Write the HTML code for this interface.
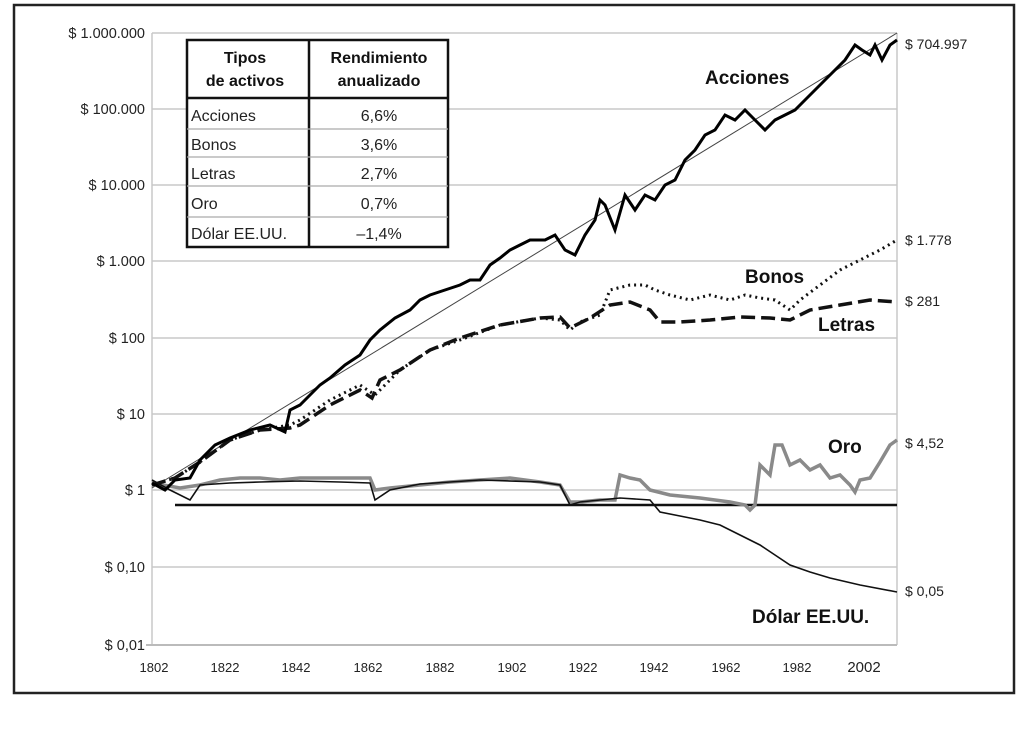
<!DOCTYPE html>
<html><head><meta charset="utf-8"><style>
body{margin:0;background:#fff;}
svg text{font-family:"Liberation Sans",sans-serif;}
</style></head><body>
<svg width="1024" height="726" viewBox="0 0 1024 726" xmlns="http://www.w3.org/2000/svg">
<rect x="14" y="5" width="1000" height="688" fill="#fff" stroke="#222" stroke-width="2.5"/>
<g stroke="#c8c8c8" stroke-width="1.5">
<line x1="152" y1="33" x2="897" y2="33"/><line x1="152" y1="109" x2="897" y2="109"/>
<line x1="152" y1="185" x2="897" y2="185"/><line x1="152" y1="261" x2="897" y2="261"/>
<line x1="152" y1="338" x2="897" y2="338"/><line x1="152" y1="414" x2="897" y2="414"/>
<line x1="152" y1="490" x2="897" y2="490"/><line x1="152" y1="567" x2="897" y2="567"/>
<line x1="897" y1="33" x2="897" y2="645"/><line x1="152" y1="33" x2="152" y2="645"/>
</g>
<line x1="146" y1="645" x2="897" y2="645" stroke="#bbb" stroke-width="2"/>
<g font-size="14.5" fill="#222" text-anchor="end">
<text x="145" y="38">$ 1.000.000</text><text x="145" y="114">$ 100.000</text>
<text x="145" y="190">$ 10.000</text><text x="145" y="266">$ 1.000</text>
<text x="145" y="343">$ 100</text><text x="145" y="419">$ 10</text>
<text x="145" y="495">$ 1</text><text x="145" y="572">$ 0,10</text>
<text x="145" y="650">$ 0,01</text>
</g>
<g font-size="13" fill="#222" text-anchor="middle">
<text x="154" y="672">1802</text><text x="225" y="672">1822</text><text x="296" y="672">1842</text>
<text x="368" y="672">1862</text><text x="440" y="672">1882</text><text x="512" y="672">1902</text>
<text x="583" y="672">1922</text><text x="654" y="672">1942</text><text x="726" y="672">1962</text>
<text x="797" y="672">1982</text><text x="864" y="672" font-size="15">2002</text>
</g>
<line x1="152" y1="488" x2="897" y2="33" stroke="#444" stroke-width="1"/>
<line x1="175" y1="505" x2="897" y2="505" stroke="#111" stroke-width="2.5"/>
<polyline fill="none" stroke="#8a8a8a" stroke-width="3.5" points="152,483 180,488 200,485 220,480 240,478 260,478 280,480 300,478 340,478 370,478 375,490 390,488 420,485 450,482 480,480 510,478 540,482 560,485 570,502 580,502 600,500 615,500 620,475 630,478 640,480 650,490 670,495 700,498 730,502 745,505 750,510 755,505 760,465 770,475 775,445 782,445 790,465 800,460 810,470 820,465 830,478 840,475 850,485 855,492 860,480 870,478 880,462 890,445 897,440"/>
<polyline fill="none" stroke="#111" stroke-width="1.6" points="152,480 170,490 190,500 200,485 230,483 260,482 300,481 340,482 370,483 375,500 390,490 420,484 480,480 540,482 560,485 570,505 580,502 620,498 650,500 660,512 680,516 700,520 720,525 740,535 760,545 775,555 790,565 810,572 830,578 860,585 897,592"/>
<polyline fill="none" stroke="#111" stroke-width="3" stroke-dasharray="2,4" points="152,485 175,478 200,462 230,440 260,430 290,425 300,420 330,400 360,385 375,395 400,370 430,350 460,340 500,325 540,318 560,320 570,330 580,322 600,315 610,290 630,285 645,285 655,290 670,295 690,300 710,295 730,300 745,295 760,298 775,300 790,310 800,300 820,285 840,270 860,260 880,250 897,240"/>
<polyline fill="none" stroke="#111" stroke-width="3.5" stroke-dasharray="14,6" points="152,485 175,478 200,462 230,440 260,430 290,428 300,425 330,405 360,390 372,398 380,380 400,370 430,350 460,338 500,325 540,318 560,317 570,328 590,318 610,305 630,302 650,310 660,322 680,322 710,320 740,317 770,318 790,320 810,310 840,305 870,300 897,302"/>
<polyline fill="none" stroke="#000" stroke-width="3" points="152,483 165,490 175,480 190,478 200,460 215,445 230,438 250,430 270,425 285,432 290,410 300,405 310,395 320,385 330,378 345,365 360,355 370,340 380,330 395,318 410,310 420,300 430,295 445,290 460,285 470,280 480,280 490,265 500,258 510,250 520,245 530,240 545,240 555,235 565,250 575,255 585,235 595,220 600,200 605,205 615,230 625,195 635,210 645,195 655,200 665,185 675,180 685,160 695,150 705,135 715,130 725,115 735,120 745,110 755,120 765,130 775,120 785,115 795,110 805,100 815,90 830,75 845,60 855,45 862,50 870,55 875,45 882,60 890,45 897,40"/>
<g font-size="14" fill="#222">
<text x="905" y="49">$ 704.997</text><text x="905" y="245">$ 1.778</text>
<text x="905" y="306">$ 281</text><text x="905" y="448">$ 4,52</text><text x="905" y="596">$ 0,05</text>
</g>
<g font-size="19" font-weight="bold" fill="#111">
<text x="705" y="84">Acciones</text><text x="745" y="283">Bonos</text>
<text x="818" y="331">Letras</text><text x="828" y="453">Oro</text>
<text x="752" y="623">Dólar EE.UU.</text>
</g>
<rect x="187" y="40" width="261" height="207" fill="#fff" stroke="#111" stroke-width="2.5"/>
<line x1="309" y1="40" x2="309" y2="247" stroke="#111" stroke-width="2.5"/>
<line x1="187" y1="98" x2="448" y2="98" stroke="#111" stroke-width="2.5"/>
<g stroke="#aaa" stroke-width="1.2">
<line x1="187" y1="129" x2="448" y2="129"/><line x1="187" y1="157" x2="448" y2="157"/>
<line x1="187" y1="186" x2="448" y2="186"/><line x1="187" y1="217" x2="448" y2="217"/>
</g>
<g font-size="16" font-weight="bold" fill="#111" text-anchor="middle">
<text x="245" y="63">Tipos</text><text x="245" y="86">de activos</text>
<text x="379" y="63">Rendimiento</text><text x="379" y="86">anualizado</text>
</g>
<g font-size="16" fill="#222">
<text x="191" y="121">Acciones</text><text x="191" y="150">Bonos</text>
<text x="191" y="179">Letras</text><text x="191" y="209">Oro</text><text x="191" y="239">Dólar EE.UU.</text>
</g>
<g font-size="16" fill="#222" text-anchor="middle">
<text x="379" y="121">6,6%</text><text x="379" y="150">3,6%</text>
<text x="379" y="179">2,7%</text><text x="379" y="209">0,7%</text><text x="379" y="239">–1,4%</text>
</g>
</svg>
</body></html>
